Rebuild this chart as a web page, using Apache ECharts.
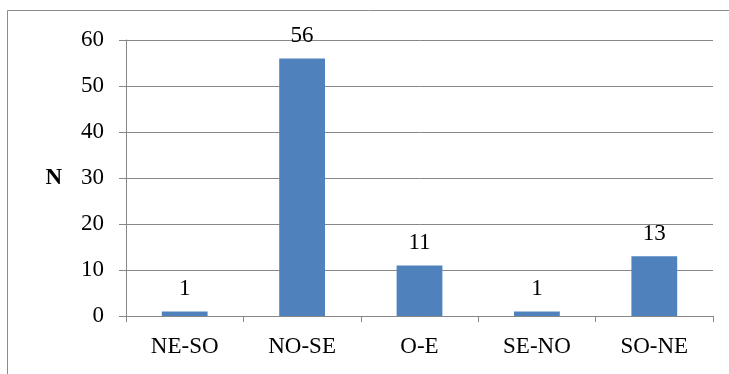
<!DOCTYPE html>
<html>
<head>
<meta charset="utf-8">
<script src="https://cdn.jsdelivr.net/npm/echarts@6/dist/echarts.min.js"></script>
<style>
  html, body { margin: 0; padding: 0; background: #fff; }
  #main { width: 729px; height: 374px; }
</style>
</head>
<body>
<div id="main"></div>
<script>
var categories = ['NE-SO', 'NO-SE', 'O-E', 'SE-NO', 'SO-NE'];
var counts = [1, 56, 11, 1, 13];
var yTicks = [0, 10, 20, 30, 40, 50, 60];

var font = '"Liberation Serif", "Times New Roman", serif';
var myChart = echarts.init(document.getElementById('main'));

var option = {
	animation : false,
	backgroundColor : '#fff',
	graphic : [ {
		type : 'rect',
		shape : { x : 7.5, y : 10.5, width : 740, height : 400 },
		style : { fill : 'none', stroke : '#8c8c8c', lineWidth : 1 },
		silent : true
	} ],
	grid : {
		left : 126,
		right : 16,
		top : 40,
		bottom : 58
	},
	xAxis : {
		type : 'category',
		data : categories,
		axisLine : { lineStyle : { color : '#878787', width : 1 } },
		axisTick : { show : true, length : 6, alignWithLabel : false, lineStyle : { color : '#878787' } },
		axisLabel : { color : '#000', fontFamily : font, fontSize : 23, margin : 19 }
	},
	yAxis : {
		type : 'value',
		min : yTicks[0],
		max : yTicks[yTicks.length - 1],
		interval : 10,
		name : 'N',
		nameLocation : 'middle',
		nameRotate : 0,
		nameGap : 64,
		nameTextStyle : { color : '#000', fontFamily : font, fontSize : 23, fontWeight : 'bold' },
		axisLine : { show : true, lineStyle : { color : '#878787', width : 1 } },
		axisTick : { show : true, length : 7, lineStyle : { color : '#878787' } },
		axisLabel : { color : '#000', fontFamily : font, fontSize : 23, margin : 22 },
		splitLine : { lineStyle : { color : '#878787', width : 1 } }
	},
	series : [ {
		type : 'bar',
		data : counts,
		barWidth : '39%',
		itemStyle : { color : '#4F81BD' },
		label : {
			show : true,
			position : 'top',
			distance : 11,
			color : '#000',
			fontFamily : font,
			fontSize : 23
		}
	} ]
};

myChart.setOption(option);
</script>
</body>
</html>
